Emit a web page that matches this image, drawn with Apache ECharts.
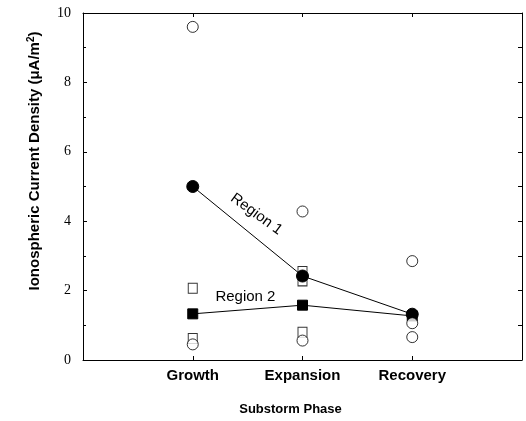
<!DOCTYPE html>
<html>
<head>
<meta charset="utf-8">
<script src="https://cdn.jsdelivr.net/npm/echarts@6/dist/echarts.min.js"></script>
<style>
  html, body { margin: 0; padding: 0; background: #fff; }
  #chart { width: 526px; height: 421px; }
</style>
</head>
<body>
<div id="chart"></div>
<script>
// Substorm phases along the x axis (placed at x = 1, 2, 3)
const phases = ['Growth', 'Expansion', 'Recovery'];

// Mean current densities per phase (μA/m²)
const region1 = [5.0, 2.42, 1.32];
const region2 = [1.33, 1.58, 1.27];

// Individual event values per phase
const openCircles = [[9.6, 0.45], [4.28, 0.56], [2.85, 1.06, 0.66]];
const openSquares = [[2.07, 0.62], [2.55, 2.28, 0.8], []];

// Left axis tick labels
const yTicks = [0, 2, 4, 6, 8, 10];

const phaseValues = phases.map((_, i) => i + 1);
const toPoints = (arr) => arr.map((v, i) => [i + 1, v]);
const toScatter = (groups) => {
  const pts = [];
  groups.forEach((g, i) => g.forEach(v => pts.push([i + 1, v])));
  return pts;
};

const ink = '#000';
const sans = 'Liberation Sans, Arial, Helvetica, sans-serif';
const serif = 'Liberation Serif, Times New Roman, serif';

const frameLine = { show: true, onZero: false, lineStyle: { color: ink, width: 1 } };

const chart = echarts.init(document.getElementById('chart'), null, { renderer: 'canvas' });

chart.setOption({
  backgroundColor: '#fff',
  animation: false,
  grid: { left: 83, right: 4, top: 13, bottom: 59, containLabel: false },
  xAxis: [
    {
      type: 'value', min: 0, max: 4, interval: 1, position: 'bottom',
      name: 'Substorm Phase', nameLocation: 'middle', nameGap: 43,
      nameTextStyle: { color: ink, fontFamily: sans, fontWeight: 'bold', fontSize: 13, padding: [0, 24, 0, 0] },
      axisLine: frameLine,
      axisTick: { show: true, inside: true, length: 4, customValues: phaseValues, lineStyle: { color: ink } },
      axisLabel: {
        show: true, customValues: phaseValues, margin: 8,
        color: ink, fontFamily: sans, fontWeight: 'bold', fontSize: 15,
        formatter: (v) => phases[Math.round(v) - 1] || ''
      },
      splitLine: { show: false }
    },
    {
      type: 'value', min: 0, max: 4, interval: 1, position: 'top',
      axisLine: frameLine,
      axisTick: { show: true, inside: true, length: 4, customValues: phaseValues, lineStyle: { color: ink } },
      axisLabel: { show: false },
      splitLine: { show: false }
    }
  ],
  yAxis: [
    {
      type: 'value', min: 0, max: 10, interval: 2, position: 'left',
      axisLine: frameLine,
      axisTick: { show: true, inside: true, length: 4, lineStyle: { color: ink } },
      minorTick: { show: true, splitNumber: 2, length: 3, lineStyle: { color: ink } },
      axisLabel: {
        show: true, margin: 12, color: ink, fontFamily: serif, fontSize: 14,
        customValues: yTicks
      },
      splitLine: { show: false }
    },
    {
      type: 'value', min: 0, max: 10, interval: 1, position: 'right',
      axisLine: frameLine,
      axisTick: { show: true, inside: true, length: 4, lineStyle: { color: ink } },
      axisLabel: { show: false },
      splitLine: { show: false }
    }
  ],
  graphic: [
    {
      type: 'text',
      x: 35, y: 161,
      rotation: Math.PI / 2,
      style: {
        text: 'Ionospheric Current Density (μA/m{sup|2})',
        fill: ink,
        font: 'bold 15px ' + sans,
        align: 'center',
        verticalAlign: 'middle',
        lineHeight: 18,
        rich: {
          sup: { fontSize: 10, fontWeight: 'bold', fontFamily: sans, fill: ink, verticalAlign: 'top', lineHeight: 18 }
        }
      }
    }
  ],
  series: [
    {
      name: 'Open squares', type: 'scatter', z: 2,
      data: toScatter(openSquares),
      symbol: 'rect', symbolSize: [9, 10],
      itemStyle: { color: '#fff', borderColor: ink, borderWidth: 1 }
    },
    {
      name: 'Region 2', type: 'line', z: 3,
      data: toPoints(region2),
      symbol: 'rect', symbolSize: 10, showAllSymbol: true,
      lineStyle: { color: ink, width: 1 },
      itemStyle: { color: ink, borderColor: ink }
    },
    {
      name: 'Region 1', type: 'line', z: 4,
      data: toPoints(region1),
      symbol: 'circle', symbolSize: 12, showAllSymbol: true,
      lineStyle: { color: ink, width: 1 },
      itemStyle: { color: ink, borderColor: ink }
    },
    {
      name: 'Open circles', type: 'scatter', z: 5,
      data: toScatter(openCircles),
      symbol: 'circle', symbolSize: 11,
      itemStyle: { color: '#fff', borderColor: ink, borderWidth: 1 }
    },
    {
      // curve labels anchored in data space
      name: 'Curve labels', type: 'scatter', z: 6, silent: true,
      symbolSize: 1,
      itemStyle: { color: '#fff', opacity: 0 },
      label: {
        show: true, position: 'inside', color: ink, opacity: 1, fontFamily: sans, fontSize: 15,
        formatter: (p) => p.data.text
      },
      emphasis: { disabled: true },
      data: [
        { value: [1.58, 4.2], text: 'Region 1', label: { rotate: -36 } },
        { value: [1.48, 1.83], text: 'Region 2' }
      ]
    }
  ]
});
</script>
</body>
</html>
